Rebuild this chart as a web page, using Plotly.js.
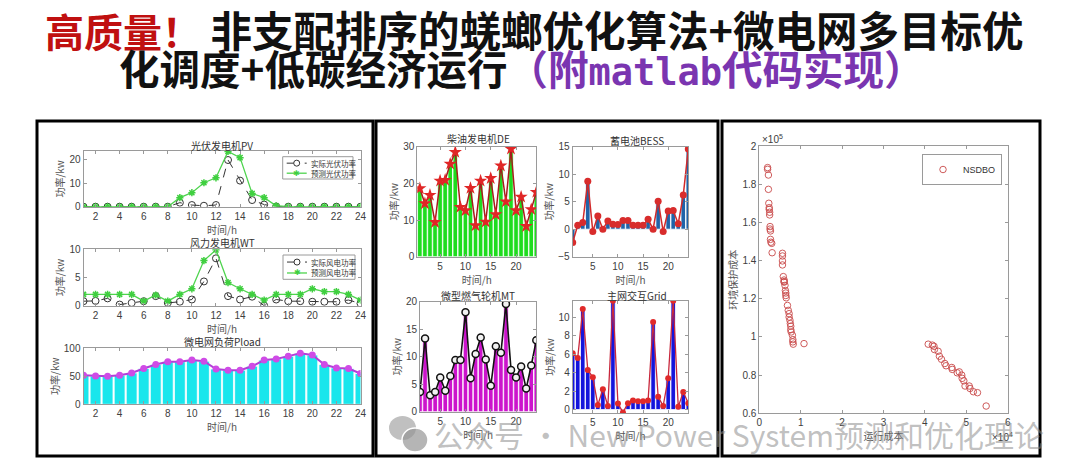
<!DOCTYPE html>
<html><head><meta charset="utf-8">
<script src="https://cdn.plot.ly/plotly-3.0.1.min.js"></script>
<style>html,body{margin:0;padding:0;background:#fff;}#chart{width:1080px;height:459px;}</style>
</head><body><div id="chart"></div>
<script>
// ---------- data ----------
const hours = [1,2,3,4,5,6,7,8,9,10,11,12,13,14,15,16,17,18,19,20,21,22,23,24];
const pvActual   = [0,0,0,0,0,0,0,0,1.7,0.7,0.4,0.7,19.7,11,2.8,0.9,0.1,0,0,0,0,0,0,0];
const pvForecast = [0,0,0,0,0,0,0,0,3.8,5.9,10.1,12.2,23.3,20.7,5.6,3.8,0.4,0,0,0,0,0,0,0];
const wtActual   = [0.8,0.85,1.3,0.2,0.5,0.8,1.7,0.5,0.7,1.1,4.3,8.4,1.7,1.1,1.6,0,1.1,0.8,0.8,0.7,0.7,0.7,1.0,0.4];
const wtForecast = [2,2,2,2,2,0.8,1.9,0.8,2,3,8,9.9,4.1,3,2,1,2,2,2,3,2.5,2.5,2,1];
const pLoad      = [52,50.5,50,52,56,64,71,76,76,79,77,63,61,61,68,79,81,86,91,88,71,65,64,55];
const pDE   = [18.6,14.5,16.8,9.4,20.7,20.9,25.3,28.5,13.5,12.6,18.7,8.5,20.7,9.5,21.4,11.5,24.8,15,29.4,12.6,16.3,8.3,12.9,17.6];
const pBESS = [-2.4,0.7,1.2,8.7,-0.4,2.4,0,1.5,0.9,0.85,1.6,1.6,0.7,0.7,0.7,1.8,0,5.1,-0.4,3.3,3.4,1.0,6.2,14.6];
const pMT   = [3.6,13.3,3.0,3.6,6.2,3.8,6.5,9.4,9.4,18.1,6.1,10.5,13.5,9.5,4.7,11.9,10.7,19.6,7.6,6.2,8.2,4.2,8.4,13.0];
const pGrid = [6.1,5.6,10.9,4.3,3.5,0.5,2.2,0.4,11.8,0.65,-0.3,0.7,1.0,0.9,0.9,1.0,9.5,1.4,0.4,3.4,11.8,0.3,1.9,0.7];
// Pareto front: running cost (x10^4), environmental cost (x10^5)
const runCost = [0.20,0.20,0.22,0.22,0.23,0.24,0.24,0.25,0.25,0.26,0.26,0.27,0.27,0.28,0.30,0.31,
  0.56,0.56,0.56,0.56,0.58,0.60,0.60,0.60,0.62,0.63,0.64,0.64,0.65,0.68,0.70,0.72,0.72,0.74,0.75,0.76,0.76,0.77,0.80,0.81,0.81,0.82,1.08,
  4.08,4.18,4.22,4.23,4.32,4.35,4.40,4.48,4.51,4.65,4.66,4.78,4.83,4.89,4.90,4.94,4.97,5.07,5.09,5.17,5.27,5.48];
const envCost = [1.887,1.878,1.848,1.773,1.70,1.677,1.668,1.653,1.639,1.578,1.565,1.555,1.511,1.496,1.490,1.441,
  1.438,1.424,1.398,1.377,1.316,1.298,1.29,1.287,1.270,1.243,1.23,1.217,1.205,1.165,1.139,1.122,1.104,1.087,1.07,1.056,1.038,1.026,1.009,0.986,0.974,0.962,0.965,
  0.962,0.957,0.951,0.934,0.925,0.899,0.883,0.861,0.849,0.84,0.83,0.812,0.817,0.80,0.783,0.770,0.743,0.743,0.730,0.713,0.708,0.638];
const subTitles = ['光伏发电机PV','风力发电机WT','微电网负荷Pload','柴油发电机DE','蓄电池BESS','微型燃气轮机MT','主网交互Grid'];
const pvNames = ['实际光伏功率','预测光伏功率'];
const wtNames = ['实际风电功率','预测风电功率'];

// ---------- helpers ----------
const W = 1080, H = 459;
const fx = p => p / W;
const fy = p => 1 - p / H;
const CJK = 'Noto Sans CJK SC';
const TICKF = {family:'Liberation Sans, Arial', size:10, color:'#404040'};
const GREEN = '#4fd44f';

function xAxis(x0, x1, range, dtick, anchor, title) {
  return {domain:[fx(x0), fx(x1)], range:range, dtick:dtick, anchor:anchor,
    showline:true, linecolor:'#9a9a9a', linewidth:1, mirror:'ticks', ticks:'inside', ticklen:3, tickcolor:'#9a9a9a',
    showgrid:false, zeroline:false, tickfont:TICKF, automargin:false,
    title:{text:title, font:{family:CJK, size:10, color:'#555'}, standoff:2}};
}
function yAxis(y0, y1, range, dtick, anchor, title) {
  return {domain:[fy(y1), fy(y0)], range:range, dtick:dtick, anchor:anchor,
    showline:true, linecolor:'#9a9a9a', linewidth:1, mirror:'ticks', ticks:'inside', ticklen:3, tickcolor:'#9a9a9a',
    showgrid:false, zeroline:false, tickfont:TICKF, automargin:false,
    title:{text:title, font:{family:CJK, size:10, color:'#555'}, standoff:2}};
}

const traces = [];
// PV
traces.push({x:hours, y:pvActual, xaxis:'x', yaxis:'y', name:pvNames[0], showlegend:false, mode:'lines+markers',
  line:{color:'#333', width:1, dash:'dash'}, marker:{symbol:'circle-open', size:7, color:'#333', line:{width:1}}});
traces.push({x:hours, y:pvForecast, xaxis:'x', yaxis:'y', name:pvNames[1], showlegend:false, mode:'lines+markers',
  line:{color:GREEN, width:1.3}, marker:{symbol:'asterisk-open', size:6, color:'#3fcf3f', line:{width:1.5, color:'#3fcf3f'}}});
// WT
traces.push({x:hours, y:wtActual, xaxis:'x2', yaxis:'y2', name:wtNames[0], showlegend:false, mode:'lines+markers',
  line:{color:'#333', width:1, dash:'dash'}, marker:{symbol:'circle-open', size:7, color:'#333', line:{width:1}}});
traces.push({x:hours, y:wtForecast, xaxis:'x2', yaxis:'y2', name:wtNames[1], showlegend:false, mode:'lines+markers',
  line:{color:GREEN, width:1.3}, marker:{symbol:'asterisk-open', size:6, color:'#3fcf3f', line:{width:1.5, color:'#3fcf3f'}}});
// Pload
traces.push({type:'bar', x:hours, y:pLoad, xaxis:'x3', yaxis:'y3', width:0.9, showlegend:false,
  marker:{color:'#19e6ec', line:{color:'#ffffff', width:0.8}}});
traces.push({x:hours, y:pLoad, xaxis:'x3', yaxis:'y3', mode:'lines+markers', showlegend:false,
  line:{color:'#b23fd8', width:2}, marker:{symbol:'circle', size:7, color:'#cf4be6'}});
// DE
traces.push({type:'bar', x:hours, y:pDE, xaxis:'x4', yaxis:'y4', width:0.9, showlegend:false,
  marker:{color:'#1edc1e', line:{color:'#ffffff', width:0.8}}});
traces.push({x:hours, y:pDE, xaxis:'x4', yaxis:'y4', mode:'lines+markers', showlegend:false,
  line:{color:'#a81c1c', width:1.5}, marker:{symbol:'star', size:10, color:'#e02626'}});
// BESS
traces.push({type:'bar', x:hours, y:pBESS, xaxis:'x5', yaxis:'y5', width:0.9, showlegend:false,
  marker:{color:'#2063a8', line:{color:'#ffffff', width:0.8}}});
traces.push({x:hours, y:pBESS, xaxis:'x5', yaxis:'y5', mode:'lines+markers', showlegend:false,
  line:{color:'#d22a2a', width:1.5}, marker:{symbol:'circle', size:7, color:'#d82c2c'}});
// MT
traces.push({type:'bar', x:hours, y:pMT, xaxis:'x6', yaxis:'y6', width:0.9, showlegend:false,
  marker:{color:'#cc14cc', line:{color:'#ffffff', width:0.8}}});
traces.push({x:hours, y:pMT, xaxis:'x6', yaxis:'y6', mode:'lines+markers', showlegend:false,
  line:{color:'#111', width:1.6}, marker:{symbol:'circle', size:7, color:'#f2f2f2', line:{color:'#111', width:1.5}}});
// Grid
traces.push({type:'bar', x:hours, y:pGrid, xaxis:'x7', yaxis:'y7', width:0.9, showlegend:false,
  marker:{color:'#1414dc', line:{color:'#ffffff', width:0.8}}});
traces.push({x:hours, y:pGrid, xaxis:'x7', yaxis:'y7', mode:'lines+markers', showlegend:false,
  line:{color:'#c8283c', width:1.3}, marker:{symbol:'circle', size:6, color:'#e02a2a'}});
// Pareto
traces.push({x:runCost, y:envCost, xaxis:'x8', yaxis:'y8', name:'NSDBO', legend:'legend', mode:'markers',
  marker:{symbol:'circle-open', size:6.5, color:'#c84a4a', line:{width:0.9}}});

const annotations = [];
const shapes = [];
// main title
annotations.push({xref:'paper', yref:'paper', x:fx(534), y:fy(28.5), xanchor:'center', yanchor:'middle', showarrow:false,
  text:'<b><span style="color:#c01010;font-size:39px">高质量！</span> 非支配排序的蜣螂优化算法+微电网多目标优</b>',
  font:{family:CJK, size:41.5, color:'#111'}});
annotations.push({xref:'paper', yref:'paper', x:fx(522), y:fy(67.5), xanchor:'center', yanchor:'middle', showarrow:false,
  text:'<b>化调度+低碳经济运行<span style="color:#7a35b0">（附<span style="font-family:DejaVu Sans Mono;font-size:37px">matlab</span>代码实现）</span></b>',
  font:{family:CJK, size:40.5, color:'#111'}});
// subplot titles
const titlePos = [[222,145],[222,242],[222,341.5],[478,138.5],[637,140],[478,295],[637,295]];
subTitles.forEach((t,i)=>annotations.push({xref:'paper', yref:'paper', x:fx(titlePos[i][0]), y:fy(titlePos[i][1]),
  xanchor:'center', yanchor:'middle', showarrow:false, text:t, font:{family:CJK, size:10, color:'#333'}}));

// legend boxes for PV and WT (drawn in paper space)
function legendBox(x0, x1, y0, y1, names) {
  shapes.push({type:'rect', xref:'paper', yref:'paper', x0:fx(x0), x1:fx(x1), y0:fy(y1), y1:fy(y0),
    fillcolor:'#fff', line:{color:'#9a9a9a', width:1}, layer:'above'});
  const rows = [y0 + (y1 - y0) * 0.29, y0 + (y1 - y0) * 0.74];
  shapes.push({type:'line', xref:'paper', yref:'paper', x0:fx(x0+4), x1:fx(x0+24), y0:fy(rows[0]), y1:fy(rows[0]),
    line:{color:'#333', width:1, dash:'dash'}, layer:'above'});
  shapes.push({type:'circle', xref:'paper', yref:'paper', x0:fx(x0+11), x1:fx(x0+17), y0:fy(rows[0]+3), y1:fy(rows[0]-3),
    fillcolor:'#fff', line:{color:'#333', width:1}, layer:'above'});
  shapes.push({type:'line', xref:'paper', yref:'paper', x0:fx(x0+4), x1:fx(x0+24), y0:fy(rows[1]), y1:fy(rows[1]),
    line:{color:GREEN, width:1.3}, layer:'above'});
  annotations.push({xref:'paper', yref:'paper', x:fx(x0+14), y:fy(rows[1]), xanchor:'center', yanchor:'middle', showarrow:false,
    text:'✱', font:{family:'DejaVu Sans', size:8, color:'#3fcf3f'}});
  names.forEach((n,i)=>annotations.push({xref:'paper', yref:'paper', x:fx(x0+26), y:fy(rows[i]), xanchor:'left', yanchor:'middle',
    showarrow:false, text:n, font:{family:CJK, size:7.5, color:'#333'}}));
}
legendBox(282.7, 353, 156.7, 179, pvNames);
legendBox(283, 355, 255, 279.3, wtNames);

// exponent labels
annotations.push({xref:'paper', yref:'paper', x:fx(760), y:fy(139), xanchor:'left', yanchor:'middle', showarrow:false,
  text:'×10<sup>5</sup>', font:{family:'Liberation Sans', size:10, color:'#404040'}});
annotations.push({xref:'paper', yref:'paper', x:fx(990), y:fy(437), xanchor:'left', yanchor:'middle', showarrow:false,
  text:'×10<sup>4</sup>', font:{family:'Liberation Sans', size:10, color:'#404040'}});
// watermark
annotations.push({xref:'paper', yref:'paper', x:fx(432), y:fy(434), xanchor:'left', yanchor:'middle', showarrow:false,
  text:'公众号 · New Power System预测和优化理论', font:{family:CJK, size:30, color:'rgba(140,140,140,0.55)'}});

// panel frames
shapes.push({type:'rect', xref:'paper', yref:'paper', x0:fx(37), x1:fx(373), y0:fy(456), y1:fy(121), line:{color:'#000', width:3}});
shapes.push({type:'rect', xref:'paper', yref:'paper', x0:fx(376), x1:fx(718), y0:fy(456), y1:fy(121), line:{color:'#000', width:3}});
shapes.push({type:'rect', xref:'paper', yref:'paper', x0:fx(722), x1:fx(1040), y0:fy(456), y1:fy(121), line:{color:'#000', width:3}});
// wechat logo bubbles (watermark)
shapes.push({type:'circle', xref:'paper', yref:'paper', x0:fx(389), x1:fx(416), y0:fy(440), y1:fy(416), fillcolor:'rgba(150,150,150,0.6)', line:{width:0}, layer:'above'});
shapes.push({type:'circle', xref:'paper', yref:'paper', x0:fx(402), x1:fx(428), y0:fy(452), y1:fy(428), fillcolor:'rgba(150,150,150,0.7)', line:{color:'#fff', width:1.5}, layer:'above'});

const layout = {
  width:W, height:H, margin:{l:0,r:0,t:0,b:0}, paper_bgcolor:'#fff', plot_bgcolor:'#fff',
  showlegend:true, barmode:'overlay',
  xaxis: xAxis(83.5,360.5,[1,24],2,'y','时间/h'),  yaxis: yAxis(151,206.7,[0,23.5],10,'x','功率/kw'),
  xaxis2:xAxis(83.5,360.5,[1,24],2,'y2','时间/h'), yaxis2:yAxis(249.3,305.7,[0,10],5,'x2','功率/kw'),
  xaxis3:xAxis(83.5,360.5,[1,24],2,'y3','时间/h'), yaxis3:yAxis(348.3,404.3,[0,100],50,'x3','功率/kw'),
  xaxis4:xAxis(417.3,536.3,[0.5,24],5,'y4','时间/h'), yaxis4:yAxis(146.7,256.7,[0,30],10,'x4','功率/kw'),
  xaxis5:xAxis(572.7,688.3,[1,24],5,'y5','时间/h'), yaxis5:yAxis(146.7,256.7,[-5,15],5,'x5','功率/kw'),
  xaxis6:xAxis(420,536.3,[1,24],5,'y6','时间/h'), yaxis6:yAxis(301.7,411.7,[0,20],5,'x6','功率/kw'),
  xaxis7:xAxis(572.7,688.3,[1,24],5,'y7','时间/h'), yaxis7:yAxis(300.7,413.3,[-0.4,11.8],2,'x7','功率/kw'),
  xaxis8:xAxis(759.3,1007.7,[0,6],1,'y8','运行成本'), yaxis8:yAxis(146,413.3,[0.6,2],0.2,'x8','环境保护成本'),
  legend:{x:fx(1002), y:fy(154), xanchor:'right', yanchor:'top', bgcolor:'#fff', bordercolor:'#9a9a9a', borderwidth:1,
    itemwidth:30, font:{family:'Liberation Sans', size:9, color:'#333'}},
  annotations:annotations, shapes:shapes
};

Plotly.newPlot('chart', traces, layout, {staticPlot:true, displayModeBar:false});
</script></body></html>
